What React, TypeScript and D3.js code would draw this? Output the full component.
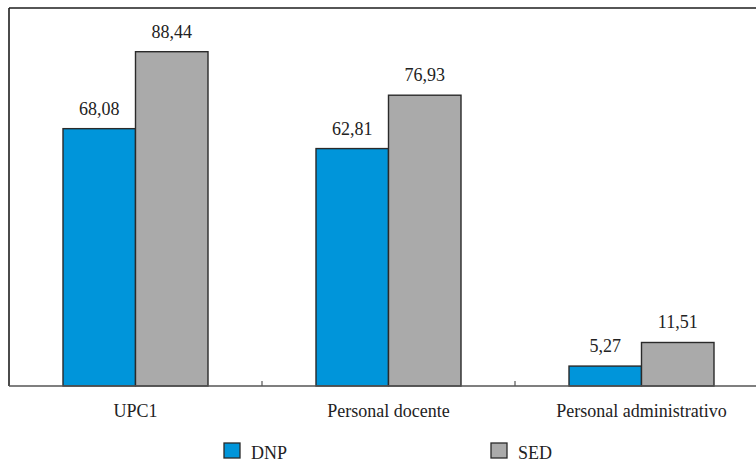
import React from "react";
import * as d3 from "d3";

// Costo por alumno: DNP vs SED
const categories = ["UPC1", "Personal docente", "Personal administrativo"];
const seriesNames = ["DNP", "SED"];
const dnpValues = [68.08, 62.81, 5.27];
const sedValues = [88.44, 76.93, 11.51];
const seriesColors = ["#0095DA", "#AAAAAA"];

const W = 756;
const H = 466;
const plot = { left: 9, right: 768, top: 8, bottom: 386 };
const FONT = "Liberation Serif";

const fmt = (v: number) => v.toFixed(2).replace(".", ",");

export default function App() {
  const x = d3
    .scaleBand<string>()
    .domain(categories)
    .range([plot.left, plot.right])
    .paddingInner(0)
    .paddingOuter(0);
  const y = d3.scaleLinear().domain([0, 100]).range([plot.bottom, plot.top]);
  const barW = 72.5;

  const values = [dnpValues, sedValues];
  const bars = categories.flatMap((c, ci) => {
    const center = (x(c) as number) + x.bandwidth() / 2;
    const inner = d3
      .scaleBand<string>()
      .domain(seriesNames)
      .range([center - barW, center + barW]);
    return seriesNames.map((s, si) => ({
      key: c + s,
      x: inner(s) as number,
      w: inner.bandwidth(),
      v: values[si][ci],
      color: seriesColors[si],
    }));
  });

  const boundaries = categories.slice(1).map((c) => x(c) as number);

  const legend = [
    { name: seriesNames[0], color: seriesColors[0], x: 224 },
    { name: seriesNames[1], color: seriesColors[1], x: 491 },
  ];

  return (
    <div style={{ position: "absolute", left: 0, top: 0 }}>
      <svg width={W} height={H} style={{ display: "block", background: "#fff" }}>
        <rect x={0} y={0} width={W} height={H} fill="#fff" />
        {bars.map((b) => (
          <g key={b.key}>
            <rect
              x={b.x}
              y={y(b.v)}
              width={b.w}
              height={plot.bottom - y(b.v)}
              fill={b.color}
              stroke="#2a2a2a"
              strokeWidth={1.4}
            />
            <text
              x={b.x + b.w / 2}
              y={y(b.v) - 14}
              textAnchor="middle"
              fontFamily={FONT}
              fontSize={18}
              fill="#222"
            >
              {fmt(b.v)}
            </text>
          </g>
        ))}
        {/* frame: top and left edges */}
        <line x1={plot.left} x2={W} y1={plot.top} y2={plot.top} stroke="#1e1e1e" strokeWidth={1.6} />
        <line x1={plot.left} x2={plot.left} y1={plot.top} y2={plot.bottom} stroke="#1e1e1e" strokeWidth={1.6} />
        {/* category axis */}
        <line x1={plot.left} x2={W} y1={plot.bottom} y2={plot.bottom} stroke="#555" strokeWidth={1.5} />
        {boundaries.map((bx) => (
          <line key={bx} x1={bx} x2={bx} y1={plot.bottom} y2={plot.bottom - 5} stroke="#555" strokeWidth={1.2} />
        ))}
        {categories.map((c) => (
          <text
            key={c}
            x={(x(c) as number) + x.bandwidth() / 2}
            y={417}
            textAnchor="middle"
            fontFamily={FONT}
            fontSize={18}
            fill="#222"
          >
            {c}
          </text>
        ))}
        {legend.map((l) => (
          <g key={l.name}>
            <rect x={l.x} y={443} width={16} height={15} fill={l.color} stroke="#2a2a2a" strokeWidth={1.3} />
            <text x={l.x + 27} y={459} fontFamily={FONT} fontSize={18} fill="#222">
              {l.name}
            </text>
          </g>
        ))}
      </svg>
    </div>
  );
}
